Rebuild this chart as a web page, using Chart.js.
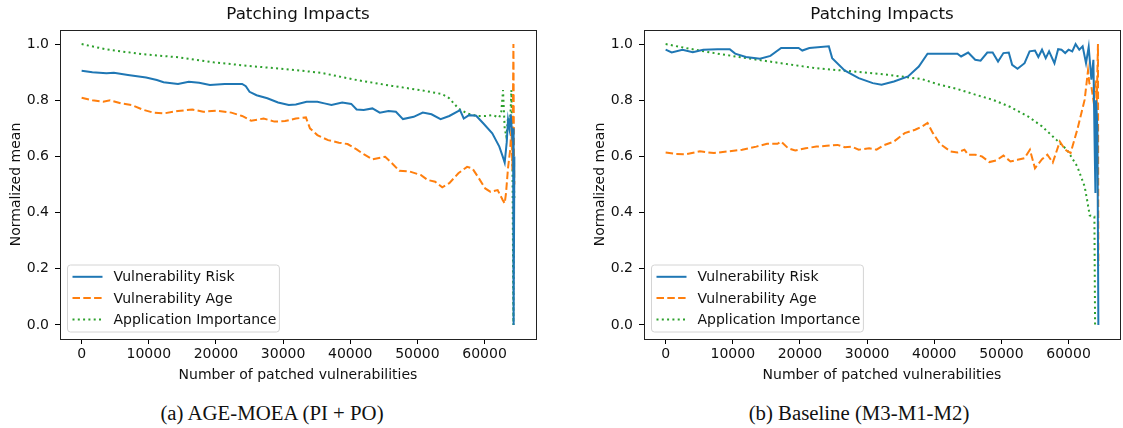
<!DOCTYPE html>
<html lang="en">
<head>
<meta charset="UTF-8">
<title>Patching Impacts</title>
<script src="https://cdn.jsdelivr.net/npm/chart.js"></script>
<style>
    body {
        margin: 0;
        background: #fff;
        width: 1123px;
        height: 428px;
        position: relative;
        overflow: hidden;
    }
    .panel { position: absolute; top: 0; width: 538px; height: 392px; }
    .caption {
        position: absolute;
        top: 401px;
        width: 300px;
        text-align: center;
        font-family: "Liberation Serif", "Times New Roman", serif;
        font-size: 20.8px;
        line-height: 24px;
        color: #111;
    }
</style>
</head>
<body>

<div class="panel" style="left:0"><canvas id="chartA"></canvas></div>
<div class="panel" style="left:584px"><canvas id="chartB"></canvas></div>
<div class="caption" style="left:122px">(a) AGE-MOEA (PI + PO)</div>
<div class="caption" style="left:709px">(b) Baseline (M3-M1-M2)</div>

<script>
// axis ticks
const xTickValues = [0, 10000, 20000, 30000, 40000, 50000, 60000];
const yTickValues = [0.0, 0.2, 0.4, 0.6, 0.8, 1.0];
const seriesLabels = ['Vulnerability Risk', 'Vulnerability Age', 'Application Importance'];

// (a) AGE-MOEA (PI + PO)
const riskX_a = [0, 1600, 3700, 4800, 6900, 9600, 11200, 12200, 14350, 15950, 17500, 19100, 21300, 23900, 24450, 25000, 26050, 27650, 29250, 30850, 31900, 33500, 35100, 36150, 37200, 38800, 40150, 40950, 42000, 43300, 44400, 45700, 46800, 47850, 49450, 50800, 52100, 53450, 54750, 56350, 56900, 57700, 58750, 59800, 61150, 62200, 62700, 63000, 63300, 63500, 63700, 63900, 64100, 64250, 64330, 64440];
const riskY_a = [0.905, 0.90, 0.896, 0.898, 0.89, 0.881, 0.872, 0.864, 0.858, 0.866, 0.862, 0.854, 0.858, 0.858, 0.85, 0.83, 0.818, 0.807, 0.792, 0.783, 0.785, 0.795, 0.795, 0.789, 0.783, 0.792, 0.787, 0.767, 0.765, 0.771, 0.756, 0.762, 0.759, 0.733, 0.741, 0.756, 0.75, 0.733, 0.744, 0.765, 0.735, 0.747, 0.745, 0.718, 0.682, 0.635, 0.60, 0.578, 0.65, 0.73, 0.70, 0.75, 0.68, 0.70, 0.0, 0.6];
const ageX_a = [0, 1600, 3200, 4250, 5850, 7450, 9050, 10650, 12200, 14350, 16500, 18100, 20200, 22300, 23900, 25250, 27100, 28700, 30300, 31900, 33400, 34000, 35100, 36700, 38300, 39600, 40950, 42000, 43300, 45200, 46250, 47300, 48900, 50500, 51550, 52650, 53700, 54750, 56100, 57400, 58200, 59000, 60100, 60900, 61950, 62700, 63000, 63200, 63500, 63800, 64000, 64150, 64300, 64380, 64440];
const ageY_a = [0.809, 0.80, 0.795, 0.80, 0.789, 0.783, 0.767, 0.756, 0.753, 0.762, 0.767, 0.759, 0.763, 0.756, 0.744, 0.727, 0.735, 0.724, 0.726, 0.735, 0.739, 0.70, 0.676, 0.658, 0.649, 0.644, 0.625, 0.608, 0.59, 0.599, 0.575, 0.549, 0.546, 0.534, 0.516, 0.51, 0.49, 0.505, 0.54, 0.563, 0.557, 0.528, 0.486, 0.474, 0.48, 0.445, 0.433, 0.47, 0.56, 0.62, 0.70, 0.55, 1.0, 0.6, 0.5];
const appX_a = [0, 3700, 9050, 14350, 19650, 25000, 30300, 35600, 40950, 46250, 50500, 53700, 54750, 56100, 57400, 59000, 60100, 61150, 62200, 62500, 62750, 63000, 63250, 63500, 63800, 64000, 64150, 64300, 64380, 64440];
const appY_a = [1.0, 0.981, 0.964, 0.953, 0.935, 0.922, 0.911, 0.898, 0.872, 0.851, 0.836, 0.822, 0.807, 0.771, 0.753, 0.744, 0.744, 0.747, 0.739, 0.76, 0.836, 0.70, 0.67, 0.74, 0.72, 0.836, 0.6, 0.0, 0.5, 0.45];

// (b) Baseline (M3-M1-M2)
const riskX_b = [0, 900, 2500, 4050, 5600, 7700, 9550, 10350, 11950, 14050, 15600, 17200, 19800, 20350, 21400, 24300, 24800, 26650, 28750, 30850, 32150, 34000, 36100, 37700, 39000, 43450, 44000, 45050, 46100, 46900, 47900, 48700, 49500, 50300, 51100, 51600, 52400, 53450, 54200, 55000, 55500, 56050, 56600, 57100, 57900, 58450, 58950, 59500, 60000, 60550, 61050, 61600, 62100, 62600, 63000, 63400, 63700, 63900, 64000, 64100, 64300, 64440];
const riskY_b = [0.98, 0.97, 0.98, 0.971, 0.98, 0.982, 0.982, 0.966, 0.954, 0.948, 0.958, 0.986, 0.986, 0.977, 0.986, 0.992, 0.95, 0.906, 0.879, 0.861, 0.855, 0.867, 0.885, 0.92, 0.966, 0.966, 0.956, 0.97, 0.944, 0.941, 0.97, 0.97, 0.938, 0.968, 0.97, 0.926, 0.912, 0.932, 0.974, 0.977, 0.954, 0.98, 0.95, 0.974, 0.932, 0.982, 0.98, 0.968, 0.98, 0.974, 1.0, 0.98, 0.992, 0.932, 0.99, 0.873, 0.944, 0.62, 0.47, 0.80, 0.70, 0.0];
const ageX_b = [0, 1400, 3000, 5100, 7200, 9300, 11400, 13500, 15100, 16650, 17200, 18250, 19300, 20850, 22450, 24000, 25600, 26650, 27700, 28750, 30300, 31400, 32400, 34000, 35600, 37150, 38200, 39000, 39800, 40850, 42400, 43450, 44500, 45050, 46100, 47100, 48200, 49250, 50300, 51350, 52400, 53450, 54250, 55000, 56050, 56850, 57650, 58700, 59500, 60300, 61300, 62400, 62900, 63100, 63400, 63700, 64000, 64200, 64380, 64440];
const ageY_b = [0.614, 0.609, 0.608, 0.618, 0.612, 0.618, 0.624, 0.635, 0.645, 0.645, 0.653, 0.629, 0.621, 0.629, 0.635, 0.638, 0.641, 0.633, 0.635, 0.624, 0.629, 0.624, 0.639, 0.653, 0.683, 0.695, 0.707, 0.719, 0.683, 0.645, 0.618, 0.614, 0.624, 0.606, 0.606, 0.60, 0.58, 0.586, 0.603, 0.582, 0.588, 0.594, 0.624, 0.558, 0.59, 0.606, 0.578, 0.653, 0.624, 0.612, 0.695, 0.802, 0.906, 0.86, 0.849, 0.80, 0.87, 0.79, 1.0, 0.21];
const appX_b = [0, 3000, 6700, 11950, 17200, 22450, 27700, 32950, 38200, 40850, 43450, 46100, 48700, 51350, 54000, 56050, 58200, 59750, 61300, 62400, 62800, 63150, 63850, 63950, 64000];
const appY_b = [1.0, 0.986, 0.97, 0.95, 0.932, 0.914, 0.903, 0.891, 0.875, 0.855, 0.84, 0.82, 0.802, 0.776, 0.742, 0.707, 0.659, 0.624, 0.564, 0.493, 0.44, 0.39, 0.386, 0.0, 0.0];

Chart.defaults.font.family = '"DejaVu Sans", sans-serif';
Chart.defaults.color = '#111';

// matplotlib-like 5% margins around 0..64440 and 0..1
const X_MIN = -3222, X_MAX = 67662;

function pts(xs, ys) {
    return xs.map((x, i) => ({ x: x, y: ys[i] }));
}

function makeDatasets(rx, ry, ax, ay, px, py) {
    return [
        { label: seriesLabels[0], data: pts(rx, ry), borderColor: '#1f77b4', borderWidth: 2, pointRadius: 0, tension: 0, fill: false },
        { label: seriesLabels[1], data: pts(ax, ay), borderColor: '#ff7f0e', borderWidth: 2, borderDash: [7.5, 3.3], pointRadius: 0, tension: 0, fill: false },
        { label: seriesLabels[2], data: pts(px, py), borderColor: '#2ca02c', borderWidth: 2, borderDash: [2, 3.3], pointRadius: 0, tension: 0, fill: false }
    ];
}

// box around the plot area
const frame = {
    id: 'frame',
    afterDatasetsDraw(chart) {
        const { ctx, chartArea: a } = chart;
        ctx.save();
        ctx.strokeStyle = '#222';
        ctx.lineWidth = 1;
        const l = Math.round(a.left) + 0.5, t = Math.round(a.top) + 0.5;
        ctx.strokeRect(l, t, Math.round(a.right) - Math.round(a.left), Math.round(a.bottom) - Math.round(a.top));
        ctx.restore();
    }
};

// legend box in lower left corner, like matplotlib
const boxLegend = {
    id: 'boxLegend',
    afterDraw(chart) {
        const ctx = chart.ctx, a = chart.chartArea;
        const sets = chart.data.datasets;
        ctx.save();
        ctx.font = '14px "DejaVu Sans"';
        const textW = Math.max(...sets.map(d => ctx.measureText(d.label).width));
        const w = 46 + textW + 3, h = 67;
        const x0 = a.left + 7.5, y0 = a.bottom - 7 - h;
        ctx.beginPath();
        ctx.roundRect(x0, y0, w, h, 3);
        ctx.fillStyle = 'rgba(255,255,255,0.8)';
        ctx.fill();
        ctx.strokeStyle = '#d4d4d4';
        ctx.lineWidth = 1;
        ctx.stroke();
        sets.forEach((d, i) => {
            const y = y0 + 11.8 + i * 21.3;
            ctx.beginPath();
            ctx.setLineDash(d.borderDash || []);
            ctx.strokeStyle = d.borderColor;
            ctx.lineWidth = d.borderWidth;
            ctx.moveTo(x0 + 5, y);
            ctx.lineTo(x0 + 35, y);
            ctx.stroke();
            ctx.setLineDash([]);
            ctx.fillStyle = '#111';
            ctx.textBaseline = 'middle';
            ctx.fillText(d.label, x0 + 46, y + 1);
        });
        ctx.restore();
    }
};

function makeOptions() {
    return {
        responsive: true,
        maintainAspectRatio: false,
        animation: false,
        layout: { padding: { left: 0, right: 2, top: 0, bottom: 0 } },
        plugins: {
            legend: { display: false },
            tooltip: { enabled: false },
            title: {
                display: true,
                text: 'Patching Impacts',
                fullSize: false,
                color: '#111',
                font: { size: 16.7, weight: 'normal' },
                padding: { top: 5, bottom: 5 }
            }
        },
        scales: {
            x: {
                type: 'linear',
                min: X_MIN,
                max: X_MAX,
                afterBuildTicks: s => { s.ticks = xTickValues.map(v => ({ value: v })); },
                afterFit: s => { s.height = 53; },
                grid: { drawOnChartArea: false, drawTicks: true, tickLength: 5, color: '#000' },
                border: { display: false },
                ticks: { padding: 2, maxRotation: 0, autoSkip: false, font: { size: 14 }, callback: v => String(v) },
                title: { display: true, text: 'Number of patched vulnerabilities', font: { size: 14 }, padding: { top: 0, bottom: 8 } }
            },
            y: {
                min: -0.05,
                max: 1.05,
                afterBuildTicks: s => { s.ticks = yTickValues.map(v => ({ value: v })); },
                afterFit: s => { s.width = 60; },
                grid: { drawOnChartArea: false, drawTicks: true, tickLength: 5, color: '#000' },
                border: { display: false },
                ticks: { padding: 6, font: { size: 14 }, callback: v => v.toFixed(1) },
                title: { display: true, text: 'Normalized mean', font: { size: 14 }, padding: { top: 8, bottom: 0 } }
            }
        }
    };
}

new Chart(document.getElementById('chartA'), {
    type: 'line',
    data: { datasets: makeDatasets(riskX_a, riskY_a, ageX_a, ageY_a, appX_a, appY_a) },
    options: makeOptions(),
    plugins: [frame, boxLegend]
});

new Chart(document.getElementById('chartB'), {
    type: 'line',
    data: { datasets: makeDatasets(riskX_b, riskY_b, ageX_b, ageY_b, appX_b, appY_b) },
    options: makeOptions(),
    plugins: [frame, boxLegend]
});
</script>

</body>
</html>
